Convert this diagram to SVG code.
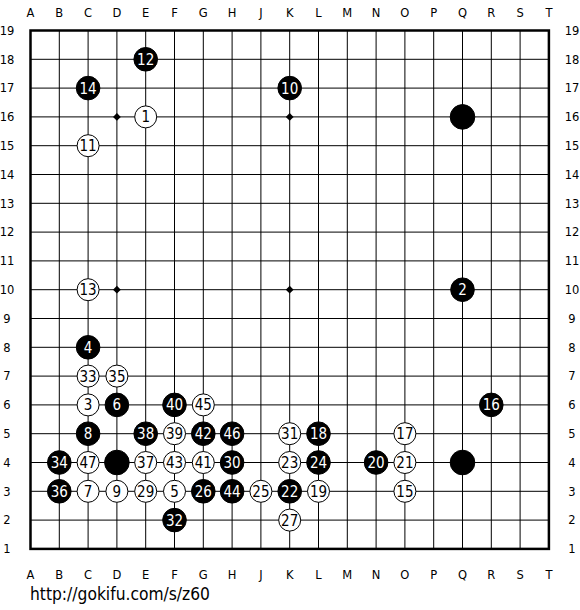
<svg xmlns="http://www.w3.org/2000/svg" width="580" height="610" viewBox="0 0 580 610">
<style>
.bg{fill:#ffffff}
.grid{stroke:#000;stroke-width:1;fill:none}
.border{stroke:#000;stroke-width:2.5;fill:none}
.star{fill:#000}
.coord{font-family:"DejaVu Sans","Liberation Sans",sans-serif;font-size:11.5px;fill:#000;text-anchor:middle}
.b circle{fill:#000;stroke:#000;stroke-width:1}
.w circle{fill:#fff;stroke:#000;stroke-width:1}
.b text{fill:#fff}
.w text{fill:#000}
.num{font-family:"DejaVu Sans Condensed","DejaVu Sans","Liberation Sans",sans-serif;font-stretch:condensed;font-size:15px;text-anchor:middle}
.url{font-family:"DejaVu Sans","Liberation Sans",sans-serif;font-size:17px;fill:#000}
</style>
<rect class="bg" x="0" y="0" width="580" height="610"/>
<g id="board">
<path class="grid" d="M59.3 30.5V548.9M88.1 30.5V548.9M116.9 30.5V548.9M145.7 30.5V548.9M174.5 30.5V548.9M203.3 30.5V548.9M232.1 30.5V548.9M260.9 30.5V548.9M289.7 30.5V548.9M318.5 30.5V548.9M347.3 30.5V548.9M376.1 30.5V548.9M404.9 30.5V548.9M433.7 30.5V548.9M462.5 30.5V548.9M491.3 30.5V548.9M520.1 30.5V548.9
M30.5 59.3H548.9M30.5 88.1H548.9M30.5 116.9H548.9M30.5 145.7H548.9M30.5 174.5H548.9M30.5 203.3H548.9M30.5 232.1H548.9M30.5 260.9H548.9M30.5 289.7H548.9M30.5 318.5H548.9M30.5 347.3H548.9M30.5 376.1H548.9M30.5 404.9H548.9M30.5 433.7H548.9M30.5 462.5H548.9M30.5 491.3H548.9M30.5 520.1H548.9"/>
<rect class="border" x="30.5" y="30.5" width="518.4" height="518.4"/>
<g class="star">
<polygon points="116.9,113 120.8,116.9 116.9,120.8 113,116.9"/>
<polygon points="289.7,113 293.6,116.9 289.7,120.8 285.8,116.9"/>
<polygon points="116.9,285.8 120.8,289.7 116.9,293.6 113,289.7"/>
<polygon points="289.7,285.8 293.6,289.7 289.7,293.6 285.8,289.7"/>
</g>
</g>
<g id="coords" class="coord">
<text x="30.5" y="17">A</text><text x="59.3" y="17">B</text><text x="88.1" y="17">C</text><text x="116.9" y="17">D</text><text x="145.7" y="17">E</text><text x="174.5" y="17">F</text><text x="203.3" y="17">G</text><text x="232.1" y="17">H</text><text x="260.9" y="17">J</text><text x="289.7" y="17">K</text><text x="318.5" y="17">L</text><text x="347.3" y="17">M</text><text x="376.1" y="17">N</text><text x="404.9" y="17">O</text><text x="433.7" y="17">P</text><text x="462.5" y="17">Q</text><text x="491.3" y="17">R</text><text x="520.1" y="17">S</text><text x="548.9" y="17">T</text>
<text x="30.5" y="579">A</text><text x="59.3" y="579">B</text><text x="88.1" y="579">C</text><text x="116.9" y="579">D</text><text x="145.7" y="579">E</text><text x="174.5" y="579">F</text><text x="203.3" y="579">G</text><text x="232.1" y="579">H</text><text x="260.9" y="579">J</text><text x="289.7" y="579">K</text><text x="318.5" y="579">L</text><text x="347.3" y="579">M</text><text x="376.1" y="579">N</text><text x="404.9" y="579">O</text><text x="433.7" y="579">P</text><text x="462.5" y="579">Q</text><text x="491.3" y="579">R</text><text x="520.1" y="579">S</text><text x="548.9" y="579">T</text>
<text x="7" y="34.7">19</text><text x="7" y="63.5">18</text><text x="7" y="92.3">17</text><text x="7" y="121.1">16</text><text x="7" y="149.9">15</text><text x="7" y="178.7">14</text><text x="7" y="207.5">13</text><text x="7" y="236.3">12</text><text x="7" y="265.1">11</text><text x="7" y="293.9">10</text><text x="7" y="322.7">9</text><text x="7" y="351.5">8</text><text x="7" y="380.3">7</text><text x="7" y="409.1">6</text><text x="7" y="437.9">5</text><text x="7" y="466.7">4</text><text x="7" y="495.5">3</text><text x="7" y="524.3">2</text><text x="7" y="553.1">1</text>
<text x="572" y="34.7">19</text><text x="572" y="63.5">18</text><text x="572" y="92.3">17</text><text x="572" y="121.1">16</text><text x="572" y="149.9">15</text><text x="572" y="178.7">14</text><text x="572" y="207.5">13</text><text x="572" y="236.3">12</text><text x="572" y="265.1">11</text><text x="572" y="293.9">10</text><text x="572" y="322.7">9</text><text x="572" y="351.5">8</text><text x="572" y="380.3">7</text><text x="572" y="409.1">6</text><text x="572" y="437.9">5</text><text x="572" y="466.7">4</text><text x="572" y="495.5">3</text><text x="572" y="524.3">2</text><text x="572" y="553.1">1</text>
</g>
<g id="stones" class="num">
<g id="E18" class="b"><circle cx="145.7" cy="59.3" r="11.8"/><text x="145.7" y="64.7">12</text></g>
<g id="C17" class="b"><circle cx="88.1" cy="88.1" r="11.8"/><text x="88.1" y="93.5">14</text></g>
<g id="K17" class="b"><circle cx="289.7" cy="88.1" r="11.8"/><text x="289.7" y="93.5">10</text></g>
<g id="E16" class="w"><circle cx="145.7" cy="116.9" r="11"/><text x="145.7" y="122.3">1</text></g>
<g id="Q16" class="b"><circle cx="462.5" cy="116.9" r="12.3"/></g>
<g id="C15" class="w"><circle cx="88.1" cy="145.7" r="11"/><text x="88.1" y="151.1">11</text></g>
<g id="C10" class="w"><circle cx="88.1" cy="289.7" r="11"/><text x="88.1" y="295.1">13</text></g>
<g id="Q10" class="b"><circle cx="462.5" cy="289.7" r="11.8"/><text x="462.5" y="295.1">2</text></g>
<g id="C8" class="b"><circle cx="88.1" cy="347.3" r="11.8"/><text x="88.1" y="352.7">4</text></g>
<g id="C7" class="w"><circle cx="88.1" cy="376.1" r="11"/><text x="88.1" y="381.5">33</text></g>
<g id="D7" class="w"><circle cx="116.9" cy="376.1" r="11"/><text x="116.9" y="381.5">35</text></g>
<g id="C6" class="w"><circle cx="88.1" cy="404.9" r="11"/><text x="88.1" y="410.3">3</text></g>
<g id="D6" class="b"><circle cx="116.9" cy="404.9" r="11.8"/><text x="116.9" y="410.3">6</text></g>
<g id="F6" class="b"><circle cx="174.5" cy="404.9" r="11.8"/><text x="174.5" y="410.3">40</text></g>
<g id="G6" class="w"><circle cx="203.3" cy="404.9" r="11"/><text x="203.3" y="410.3">45</text></g>
<g id="R6" class="b"><circle cx="491.3" cy="404.9" r="11.8"/><text x="491.3" y="410.3">16</text></g>
<g id="C5" class="b"><circle cx="88.1" cy="433.7" r="11.8"/><text x="88.1" y="439.1">8</text></g>
<g id="E5" class="b"><circle cx="145.7" cy="433.7" r="11.8"/><text x="145.7" y="439.1">38</text></g>
<g id="F5" class="w"><circle cx="174.5" cy="433.7" r="11"/><text x="174.5" y="439.1">39</text></g>
<g id="G5" class="b"><circle cx="203.3" cy="433.7" r="11.8"/><text x="203.3" y="439.1">42</text></g>
<g id="H5" class="b"><circle cx="232.1" cy="433.7" r="11.8"/><text x="232.1" y="439.1">46</text></g>
<g id="K5" class="w"><circle cx="289.7" cy="433.7" r="11"/><text x="289.7" y="439.1">31</text></g>
<g id="L5" class="b"><circle cx="318.5" cy="433.7" r="11.8"/><text x="318.5" y="439.1">18</text></g>
<g id="O5" class="w"><circle cx="404.9" cy="433.7" r="11"/><text x="404.9" y="439.1">17</text></g>
<g id="B4" class="b"><circle cx="59.3" cy="462.5" r="11.8"/><text x="59.3" y="467.9">34</text></g>
<g id="C4" class="w"><circle cx="88.1" cy="462.5" r="11"/><text x="88.1" y="467.9">47</text></g>
<g id="D4" class="b"><circle cx="116.9" cy="462.5" r="12.3"/></g>
<g id="E4" class="w"><circle cx="145.7" cy="462.5" r="11"/><text x="145.7" y="467.9">37</text></g>
<g id="F4" class="w"><circle cx="174.5" cy="462.5" r="11"/><text x="174.5" y="467.9">43</text></g>
<g id="G4" class="w"><circle cx="203.3" cy="462.5" r="11"/><text x="203.3" y="467.9">41</text></g>
<g id="H4" class="b"><circle cx="232.1" cy="462.5" r="11.8"/><text x="232.1" y="467.9">30</text></g>
<g id="K4" class="w"><circle cx="289.7" cy="462.5" r="11"/><text x="289.7" y="467.9">23</text></g>
<g id="L4" class="b"><circle cx="318.5" cy="462.5" r="11.8"/><text x="318.5" y="467.9">24</text></g>
<g id="N4" class="b"><circle cx="376.1" cy="462.5" r="11.8"/><text x="376.1" y="467.9">20</text></g>
<g id="O4" class="w"><circle cx="404.9" cy="462.5" r="11"/><text x="404.9" y="467.9">21</text></g>
<g id="Q4" class="b"><circle cx="462.5" cy="462.5" r="12.3"/></g>
<g id="B3" class="b"><circle cx="59.3" cy="491.3" r="11.8"/><text x="59.3" y="496.7">36</text></g>
<g id="C3" class="w"><circle cx="88.1" cy="491.3" r="11"/><text x="88.1" y="496.7">7</text></g>
<g id="D3" class="w"><circle cx="116.9" cy="491.3" r="11"/><text x="116.9" y="496.7">9</text></g>
<g id="E3" class="w"><circle cx="145.7" cy="491.3" r="11"/><text x="145.7" y="496.7">29</text></g>
<g id="F3" class="w"><circle cx="174.5" cy="491.3" r="11"/><text x="174.5" y="496.7">5</text></g>
<g id="G3" class="b"><circle cx="203.3" cy="491.3" r="11.8"/><text x="203.3" y="496.7">26</text></g>
<g id="H3" class="b"><circle cx="232.1" cy="491.3" r="11.8"/><text x="232.1" y="496.7">44</text></g>
<g id="J3" class="w"><circle cx="260.9" cy="491.3" r="11"/><text x="260.9" y="496.7">25</text></g>
<g id="K3" class="b"><circle cx="289.7" cy="491.3" r="11.8"/><text x="289.7" y="496.7">22</text></g>
<g id="L3" class="w"><circle cx="318.5" cy="491.3" r="11"/><text x="318.5" y="496.7">19</text></g>
<g id="O3" class="w"><circle cx="404.9" cy="491.3" r="11"/><text x="404.9" y="496.7">15</text></g>
<g id="F2" class="b"><circle cx="174.5" cy="520.1" r="11.8"/><text x="174.5" y="525.5">32</text></g>
<g id="K2" class="w"><circle cx="289.7" cy="520.1" r="11"/><text x="289.7" y="525.5">27</text></g>
</g>
<text class="url" x="30" y="600" textLength="180" lengthAdjust="spacingAndGlyphs">http://gokifu.com/s/z60</text>
</svg>
